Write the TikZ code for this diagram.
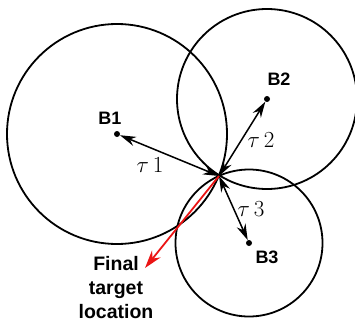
\RequirePackage{fix-cm}
\documentclass[tikz,border=0pt]{standalone}
\usepackage{fontspec}
\setsansfont{Liberation Sans}
\usepackage{tikz}
\usetikzlibrary{positioning,arrows.meta,calc}
\definecolor{targetred}{RGB}{235,20,20}
\tikzset{
  rangecircle/.style={draw=black,line width=1.8pt},
  anchorpt/.style={circle,fill=black,inner sep=0pt,minimum size=6pt},
  blabel/.style={font=\sffamily\bfseries\fontsize{18}{21}\selectfont,inner sep=1pt},
  taulabel/.style={font=\fontsize{23}{27}\selectfont,inner sep=1pt},
  dist/.style={{Stealth[length=16pt,width=9.5pt]}-{Stealth[length=16pt,width=9.5pt]},line width=1.5pt},
  estimate/.style={-{Stealth[length=18pt,width=11pt]},line width=1.8pt,draw=targetred,fill=targetred}
}
\begin{document}
\begin{tikzpicture}[x=1pt,y=1pt]
  \useasboundingbox (0,0) rectangle (355,325);
  % beacons and the common point
  \node[anchorpt] (b1) at (117,191) {};
  \node[anchorpt] (b2) at (267,226) {};
  \node[anchorpt] (b3) at (249,82) {};
  \coordinate (p) at (219,149);
  \coordinate (tip) at (145,57);
  % ranges
  \draw[rangecircle] (b1.center) circle[radius=110];
  \draw[rangecircle] (b2.center) circle[radius=90];
  \draw[rangecircle] (b3.center) circle[radius=73.5];
  % labels
  \node[blabel] (l1) at (110,207) {B1};
  \node[blabel] (l2) at (279,246) {B2};
  \node[blabel] (l3) at (267,68) {B3};
  \node[taulabel] (t1) at (150,160) {$\tau\,1$};
  \node[taulabel] (t2) at (261,185) {$\tau\,2$};
  \node[taulabel] (t3) at (251,116) {$\tau\,3$};
  \node[blabel,align=center,font=\sffamily\bfseries\fontsize{19.5}{24}\selectfont] (final) at (116,37) {Final\\target\\location};
  % distances
  \draw[dist] (b1) -- (p);
  \draw[dist] (b2) -- (p);
  \draw[dist] (b3) -- (p);
  \draw[estimate] (p) -- (tip);
\end{tikzpicture}
\end{document}
